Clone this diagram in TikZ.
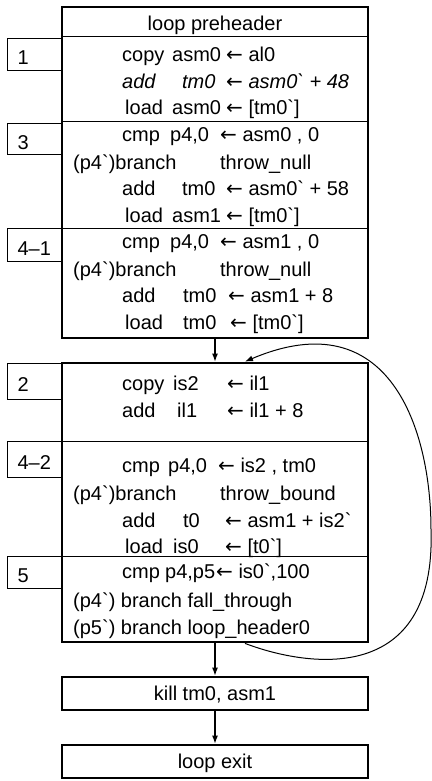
\documentclass[tikz,border=0pt]{standalone}
\usepackage{fontspec}
\newfontfamily\codefont{Liberation Sans}
\newfontfamily\arrfont{DejaVu Sans}
\usetikzlibrary{arrows.meta}

\newcommand{\cell}[2]{\makebox[#1pt][l]{#2}}
\newcommand{\larr}{{\arrfont ←}}

\begin{document}
\begin{tikzpicture}[x=1pt, y=-1pt, font=\codefont\fontsize{20}{24}\selectfont,
    blk/.style={draw, line width=2.8pt, minimum width=306pt, inner sep=0pt},
    tag/.style={draw, line width=1.1pt, anchor=north west, minimum width=55pt,
      text width=35pt, inner xsep=10pt, inner ysep=0pt, align=left,
      text height=20pt, text depth=0pt},
    code/.style={anchor=base west, inner sep=0pt},
    sepline/.style={line width=1pt},
    flow/.style={line width=1.1pt, -{Latex[length=8pt,width=6pt]}}]
  \useasboundingbox (0,0) rectangle (431,781);

  % block numbers on the left
  \node[tag, minimum height=32pt] (t1) at (7,38) {1};
  \node[tag, minimum height=31pt] (t3) at (7,123) {3};
  \node[tag, minimum height=33pt] (t41) at (7,228) {4–1};
  \node[tag, minimum height=36pt] (t2) at (7,363) {2};
  \node[tag, minimum height=36pt] (t42) at (7,441) {4–2};
  \node[tag, minimum height=32pt] (t5) at (7,556) {5};

  \node[blk, minimum height=331pt] (pre) at (215,172.5) {};
  \node[blk, minimum height=279pt] (body) at (215,502.5) {};
  \node[blk, minimum height=33pt, text depth=0pt] (kill) at (215,693.5) {kill tm0, asm1};
  \node[blk, minimum height=33pt, text depth=0pt] (exit) at (215,761.5) {loop exit};

  \foreach \y in {37,122,228}
    \draw[sepline] (62,\y) -- (368,\y);
  \foreach \y in {441,556}
    \draw[sepline] (62,\y) -- (368,\y);

  \node[anchor=base, inner sep=0pt] (head) at (215,31) {loop preheader};

  % preheader code
  \foreach \x/\y/\t in {
      122/62/{\cell{50}{copy}\cell{54}{asm0}\larr{} al0},
      122/89/{\itshape\cell{60}{add}\cell{44}{tm0}\larr{} asm0` + 48},
      125/115/{\cell{47}{load}\cell{54}{asm0}\larr{} [tm0`]},
      122/142/{\cell{48}{cmp}\cell{50}{p4,0}\larr{} asm0 , 0},
      73/169/{\cell{147}{(p4`)branch}throw\_null},
      122/195/{\cell{60}{add}\cell{44}{tm0}\larr{} asm0` + 58},
      125/222/{\cell{47}{load}\cell{54}{asm1}\larr{} [tm0`]},
      122/248/{\cell{48}{cmp}\cell{50}{p4,0}\larr{} asm1 , 0},
      73/276/{\cell{147}{(p4`)branch}throw\_null},
      122/302/{\cell{61}{add}\cell{45}{tm0}\larr{} asm1 + 8},
      125/329/{\cell{58}{load}\cell{47}{tm0}\larr{} [tm0`]}}
    \node[code] (p\y) at (\x,\y) {\t};

  % loop body code
  \foreach \x/\y/\t in {
      122/390/{\cell{51}{copy}\cell{54}{is2}\larr{} il1},
      122/417/{\cell{55}{add}\cell{50}{il1}\larr{} il1 + 8},
      122/472/{\cell{46}{cmp}\cell{50}{p4,0}\larr{} is2 , tm0},
      73/500/{\cell{147}{(p4`)branch}throw\_bound},
      122/527/{\cell{61}{add}\cell{42}{t0}\larr{} asm1 + is2`},
      125/553/{\cell{48}{load}\cell{52}{is0}\larr{} [t0`]},
      122/578/{\cell{43}{cmp}\cell{51}{p4,p5}\larr{} is0`,100},
      73/607/{(p4`) branch fall\_through},
      73/634/{(p5`) branch loop\_header0}}
    \node[code] (b\y) at (\x,\y) {\t};

  \draw[flow] (pre.south) -- (body.north);
  \draw[flow] (body.south) -- (kill.north);
  \draw[flow] (kill.south) -- (exit.north);
  \draw[flow, line width=1pt] ([xshift=30pt]body.south)
    .. controls (310,668) and (436,685) .. (431,530)
    .. controls (431,430) and (390,300) .. ([xshift=30pt]body.north);
\end{tikzpicture}
\end{document}
